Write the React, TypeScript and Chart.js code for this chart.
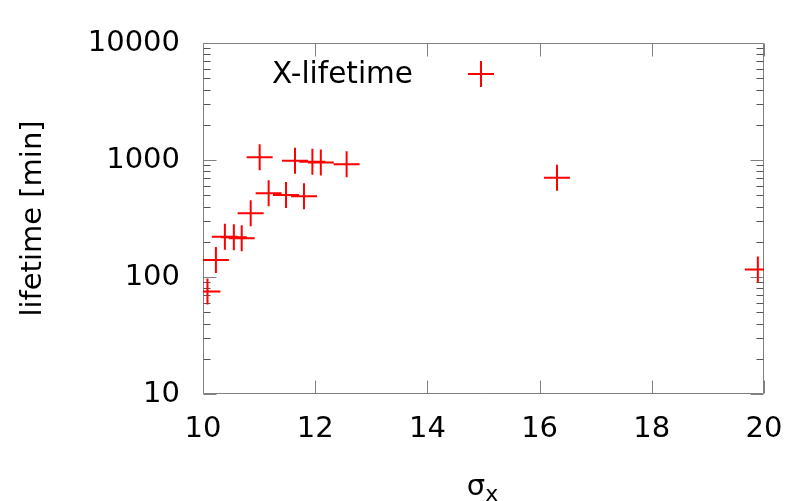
import React, { useEffect, useRef } from 'react';
import { Chart, registerables } from 'chart.js';

Chart.register(...registerables);

// ---- data ----
const sigmaX = [10.08, 10.23, 10.39, 10.55, 10.69, 10.85, 11.01, 11.17, 11.48, 11.64, 11.8, 11.95, 12.1, 12.56, 16.31, 19.89];
const lifetime = [75, 140, 221, 219, 214, 350, 1055, 519, 502, 986, 490, 966, 954, 919, 706, 116];
const seriesLabel = 'X-lifetime';

const xTicks = [10, 12, 14, 16, 18, 20];
const yTicks = [10, 100, 1000, 10000];
const yMinorTicks = [
  20, 30, 40, 50, 60, 70, 80, 90,
  200, 300, 400, 500, 600, 700, 800, 900,
  2000, 3000, 4000, 5000, 6000, 7000, 8000, 9000,
];
const xTitleMain = 'σ';
const xTitleSub = 'x';
const yTitle = 'lifetime [min]';

const FONT = "'DejaVu Sans', sans-serif";
const RED = '#ff0000';
const BORDER = '#808080';

const framePlugin = {
  id: 'gnuFrame',
  beforeDatasetsDraw(chart: any) {
    const { ctx, chartArea } = chart;
    const xs = chart.scales.x;
    const ys = chart.scales.y;
    const L = Math.round(chartArea.left) + 0.5;
    const R = Math.round(chartArea.right) - 0.5;
    const T = Math.round(chartArea.top) + 0.5;
    const B = Math.round(chartArea.bottom) - 0.5;
    ctx.save();
    ctx.lineWidth = 1;
    ctx.strokeStyle = BORDER;
    ctx.beginPath();
    ctx.rect(L, T, R - L, B - T);
    ctx.stroke();
    // x ticks (bottom and mirrored top)
    ctx.beginPath();
    xTicks.forEach((v) => {
      const px = Math.round(xs.getPixelForValue(v)) + 0.5;
      ctx.moveTo(px, B);
      ctx.lineTo(px, B - 13);
      ctx.moveTo(px, T);
      ctx.lineTo(px, T + 13);
    });
    // y major ticks
    yTicks.forEach((v) => {
      const py = Math.round(ys.getPixelForValue(v)) + 0.5;
      ctx.moveTo(L, py);
      ctx.lineTo(L + 13, py);
      ctx.moveTo(R, py);
      ctx.lineTo(R - 13, py);
    });
    ctx.stroke();
    // y minor ticks
    ctx.strokeStyle = '#555555';
    ctx.beginPath();
    yMinorTicks.forEach((v) => {
      const py = Math.round(ys.getPixelForValue(v)) + 0.5;
      ctx.moveTo(L, py);
      ctx.lineTo(L + 7, py);
      ctx.moveTo(R, py);
      ctx.lineTo(R - 7, py);
    });
    ctx.stroke();
    ctx.restore();
  },
  afterDraw(chart: any) {
    const { ctx, chartArea } = chart;
    ctx.save();
    ctx.fillStyle = '#000000';
    // legend
    ctx.font = `29.5px ${FONT}`;
    ctx.textAlign = 'right';
    ctx.textBaseline = 'alphabetic';
    ctx.fillText(seriesLabel, 413, 83);
    ctx.strokeStyle = RED;
    ctx.lineWidth = 2;
    ctx.beginPath();
    ctx.moveTo(481 - 13, 74);
    ctx.lineTo(481 + 13, 74);
    ctx.moveTo(481, 74 - 13);
    ctx.lineTo(481, 74 + 13);
    ctx.stroke();
    // y title
    const cy = (chartArea.top + chartArea.bottom) / 2;
    ctx.save();
    ctx.translate(41, cy);
    ctx.rotate(-Math.PI / 2);
    ctx.textAlign = 'center';
    ctx.font = `29px ${FONT}`;
    ctx.fillText(yTitle, 0, 0);
    ctx.restore();
    // x title with subscript
    ctx.textAlign = 'left';
    ctx.font = `29px ${FONT}`;
    const wMain = ctx.measureText(xTitleMain).width;
    ctx.font = `22px ${FONT}`;
    const wSub = ctx.measureText(xTitleSub).width;
    const cx = (chartArea.left + chartArea.right) / 2;
    const x0 = cx - (wMain + wSub) / 2 - 1;
    ctx.font = `29px ${FONT}`;
    ctx.fillText(xTitleMain, x0, 495);
    ctx.font = `22px ${FONT}`;
    ctx.fillText(xTitleSub, x0 + wMain, 501);
    ctx.restore();
  },
};

export default function App() {
  const ref = useRef<HTMLCanvasElement | null>(null);
  useEffect(() => {
    document.body.style.margin = '0';
    const canvas = ref.current;
    if (!canvas) return;
    const chart = new Chart(canvas, {
      type: 'scatter',
      data: {
        datasets: [
          {
            label: seriesLabel,
            data: sigmaX.map((x, i) => ({ x, y: lifetime[i] })),
            pointStyle: 'cross',
            pointRadius: 13,
            pointHoverRadius: 13,
            borderColor: RED,
            backgroundColor: RED,
            borderWidth: 2,
            pointBorderWidth: 2,
          },
        ],
      },
      options: {
        responsive: false,
        animation: false,
        events: [],
        layout: { padding: { top: 43, right: 29, left: 0, bottom: 0 } },
        plugins: {
          legend: { display: false },
          tooltip: { enabled: false },
          title: { display: false },
        },
        scales: {
          x: {
            type: 'linear',
            min: 10,
            max: 20,
            afterBuildTicks: (s: any) => {
              s.ticks = xTicks.map((v) => ({ value: v }));
            },
            afterFit: (s: any) => {
              s.height = 107;
              s.paddingLeft = 0;
              s.paddingRight = 0;
            },
            grid: { display: false, drawTicks: false },
            border: { display: false },
            ticks: {
              color: '#000000',
              font: { family: FONT, size: 29 },
              padding: 18,
              maxRotation: 0,
              autoSkip: false,
              callback: (v: any) => String(v),
            },
          },
          y: {
            type: 'logarithmic',
            min: 10,
            max: 10000,
            afterBuildTicks: (s: any) => {
              s.ticks = yTicks.map((v) => ({ value: v }));
            },
            afterFit: (s: any) => {
              s.width = 203;
              s.paddingTop = 0;
              s.paddingBottom = 0;
            },
            grid: { display: false, drawTicks: false },
            border: { display: false },
            ticks: {
              color: '#000000',
              font: { family: FONT, size: 29 },
              padding: 23,
              autoSkip: false,
              callback: (v: any) => String(v),
            },
          },
        },
      },
      plugins: [framePlugin],
    });
    return () => chart.destroy();
  }, []);
  return (
    <div style={{ width: 793, height: 501, position: 'relative' }}>
      <canvas ref={ref} width={793} height={501} style={{ display: 'block' }} />
    </div>
  );
}
